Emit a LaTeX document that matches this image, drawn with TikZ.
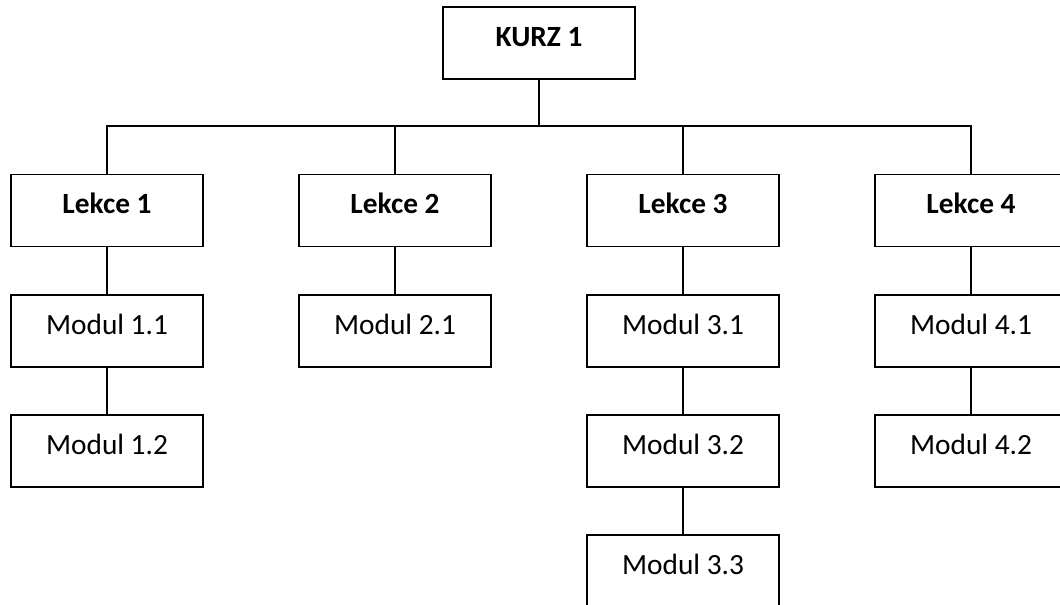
\documentclass[tikz,border=0pt]{standalone}
\usepackage{fontspec}
\setmainfont{Carlito}
\begin{document}
\begin{tikzpicture}[x=0.75pt,y=-0.75pt,
  box/.style={draw=black,line width=1.2pt,fill=white,minimum width=144pt,minimum height=54pt,
    inner sep=0pt,text height=16pt,text depth=11pt,font=\fontsize{22pt}{26pt}\selectfont},
  bbox/.style={box,font=\fontsize{22pt}{26pt}\selectfont\bfseries},
  conn/.style={draw=black,line width=1.2pt}]
\useasboundingbox (0,0) rectangle (1060,605);
\clip (0,0) rectangle (1060,605);
\node[bbox] (K) at (539,43) {KURZ 1};
\node[bbox] (L1) at (107,210.5) {Lekce 1};
\node[bbox] (L2) at (395,210.5) {Lekce 2};
\node[bbox] (L3) at (683,210.5) {Lekce 3};
\node[bbox] (L4) at (971,210.5) {Lekce 4};
\node[box] (M11) at (107,331) {Modul 1.1};
\node[box] (M12) at (107,451) {Modul 1.2};
\node[box] (M21) at (395,331) {Modul 2.1};
\node[box] (M31) at (683,331) {Modul 3.1};
\node[box] (M32) at (683,451) {Modul 3.2};
\node[box] (M33) at (683,571) {Modul 3.3};
\node[box] (M41) at (971,331) {Modul 4.1};
\node[box] (M42) at (971,451) {Modul 4.2};
\coordinate (bus) at (539,126);
\draw[conn] (K.south) -- (bus);
\draw[conn] (bus) -| (L1.north);
\draw[conn] (bus) -| (L2.north);
\draw[conn] (bus) -| (L3.north);
\draw[conn] (bus) -| (L4.north);
\draw[conn] (L1.south) -- (M11.north);
\draw[conn] (M11.south) -- (M12.north);
\draw[conn] (L2.south) -- (M21.north);
\draw[conn] (L3.south) -- (M31.north);
\draw[conn] (M31.south) -- (M32.north);
\draw[conn] (M32.south) -- (M33.north);
\draw[conn] (L4.south) -- (M41.north);
\draw[conn] (M41.south) -- (M42.north);
\end{tikzpicture}
\end{document}
